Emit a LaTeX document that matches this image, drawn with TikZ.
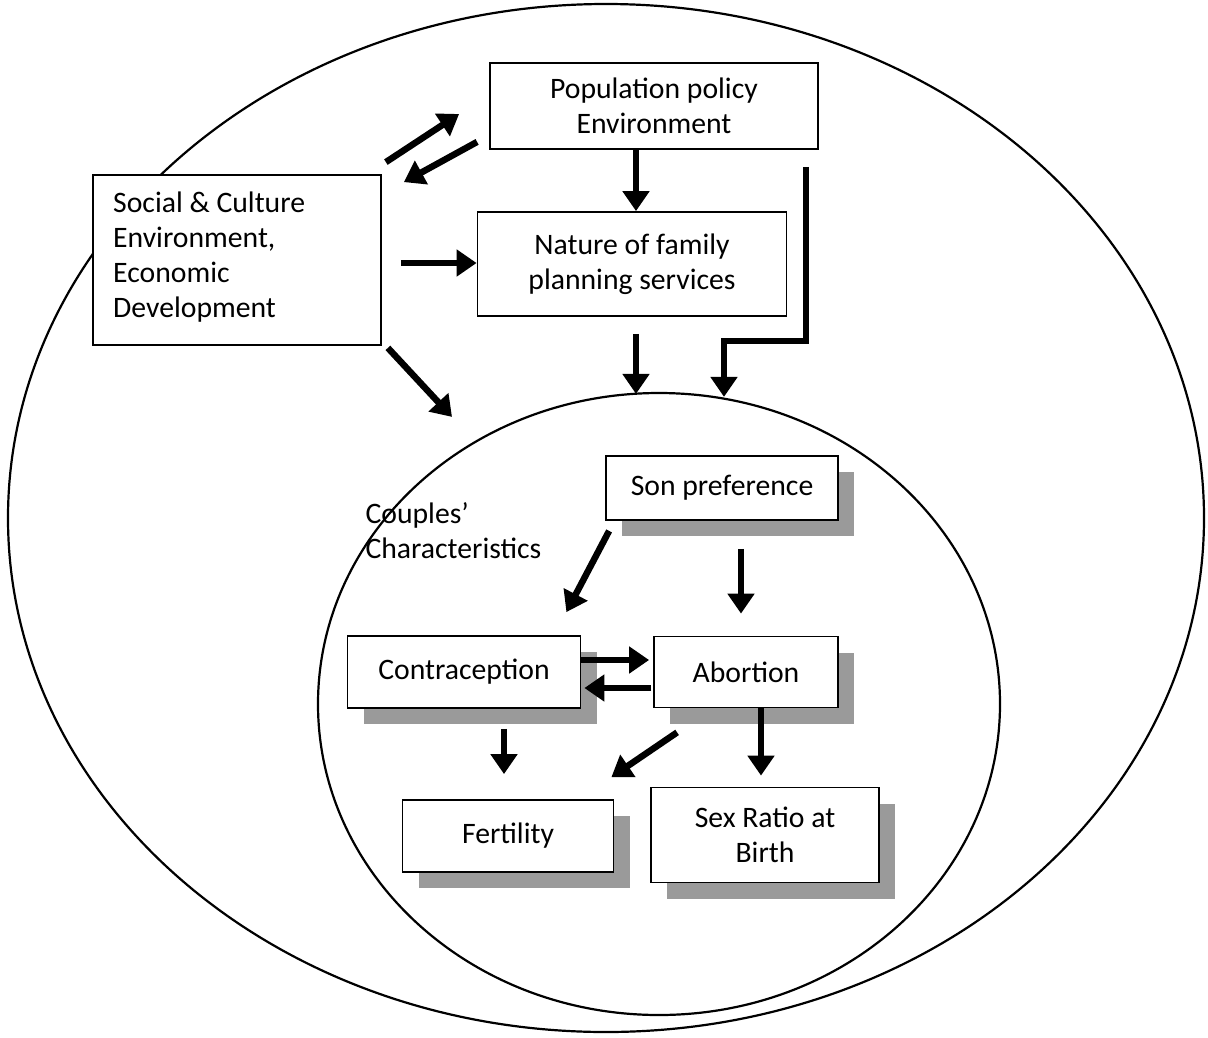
\documentclass[tikz,border=0pt]{standalone}
\usepackage{fontspec}
\setmainfont{Carlito}
\usetikzlibrary{arrows.meta,calc,shadows,shapes.geometric}
\definecolor{shadowgray}{HTML}{9A9A9A}
\begin{document}
\begin{tikzpicture}[x=1pt,y=-1pt,
  txt/.style={font=\fontsize{29.7}{35}\selectfont},
  box/.style={txt,draw,line width=1.8pt,fill=white,inner sep=0pt,align=center},
  shbox/.style={box,drop shadow={shadow xshift=16pt,shadow yshift=-16pt,fill=shadowgray,opacity=1}},
  arr/.style={line width=6.5pt,line join=miter,-{Triangle[length=20pt,width=26pt]}},
  ring/.style={draw,ellipse,line width=2.2pt,inner sep=0pt}]
\useasboundingbox (0,0) rectangle (1208,1037);

% the two environments: society as a whole, and the couple
\node[ring,minimum width=1196pt,minimum height=1028pt] (outer) at (606,518) {};
\node[ring,minimum width=682pt,minimum height=622pt] (inner) at (659,704) {};

% context boxes
\node[box,minimum width=328pt,minimum height=86pt] (pop) at (654,106)
  {Population policy\\Environment};
\node[box,minimum width=288pt,minimum height=170pt] (soc) at (237,260) {};
\node[txt,align=left,anchor=west,inner sep=0pt] (soclbl) at (113,257)
  {Social \& Culture\\Environment,\\Economic\\Development};
\node[box,minimum width=309pt,minimum height=104pt] (nat) at (632,264)
  {Nature of family\\planning services};

% couple-level boxes
\node[txt,align=left,anchor=west] (cpl) at (362,531) {Couples’\\Characteristics};
\node[shbox,minimum width=232pt,minimum height=64pt] (son) at (722,488) {Son preference};
\node[shbox,minimum width=233pt,minimum height=72pt] (con) at (464,672) {Contraception};
\node[shbox,minimum width=184pt,minimum height=71pt] (abo) at (746,672) {Abortion};
\node[shbox,minimum width=211pt,minimum height=72pt] (fer) at (508,836) {Fertility};
\node[shbox,minimum width=228pt,minimum height=95pt] (sex) at (765,835) {Sex Ratio at\\Birth};

% links between the contexts
\draw[arr] ([shift={(4pt,12pt)}]soc.north east) -- ([shift={(-30pt,-8pt)}]pop.west);
\draw[arr] ([shift={(-12pt,8pt)}]pop.south west) -- ([shift={(22pt,-8pt)}]soc.north east);
\draw[arr] ([xshift=-18pt]pop.south) -- ([xshift=4pt]nat.north);
\draw[arr] ([shift={(19pt,-3pt)}]soc.east) -- ([yshift=1pt]nat.west);

% contexts acting on the couple
\draw[arr] ([shift={(6pt,-2pt)}]soc.south east) -- ([shift={(-207pt,-25pt)}]inner.north);
\draw[arr] ([shift={(4pt,-17pt)}]nat.south) -- ([shift={(-23pt,-2pt)}]inner.north);
\draw[arr] ([shift={(-13pt,-17pt)}]pop.south east) -- ++(0,174) -| ([shift={(65pt,-5pt)}]inner.north);

% relations inside the couple
\draw[arr] ([shift={(4pt,-10pt)}]son.south west) -- ([shift={(-15pt,23pt)}]con.north east);
\draw[arr] ([shift={(19pt,-28pt)}]son.south) -- ([shift={(-5pt,22pt)}]abo.north);
\draw[arr] ([yshift=12pt]con.east) -- ([shift={(-4pt,12pt)}]abo.west);
\draw[arr] ([shift={(-2pt,-16pt)}]abo.west) -- ([shift={(3pt,-16pt)}]con.east);
\draw[arr] ([shift={(40pt,-20pt)}]con.south) -- ([shift={(-4pt,25pt)}]fer.north);
\draw[arr] ([shift={(24pt,-24pt)}]abo.south west) -- ([shift={(-3pt,22pt)}]fer.north east);
\draw[arr] ([xshift=15pt]abo.south) -- ([shift={(-4pt,11pt)}]sex.north);
\end{tikzpicture}
\end{document}
